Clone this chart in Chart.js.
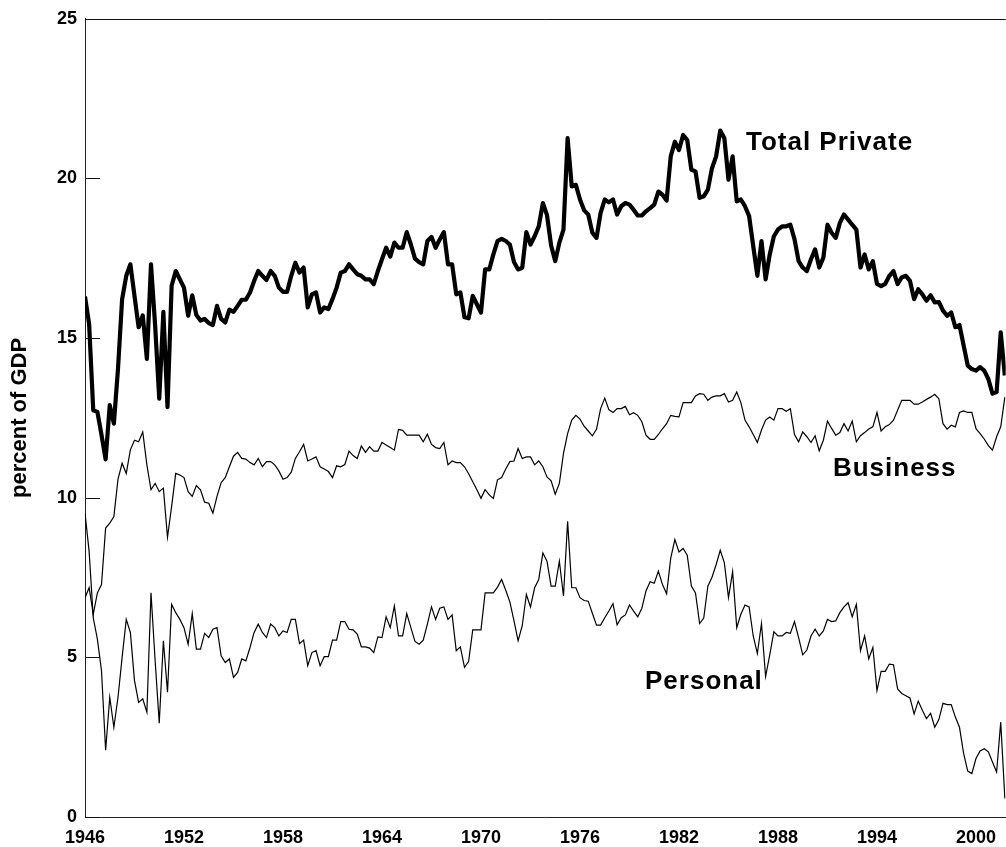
<!DOCTYPE html>
<html>
<head>
<meta charset="utf-8">
<script src="https://cdn.jsdelivr.net/npm/chart.js@4.4.1/dist/chart.umd.min.js"></script>
<style>
html,body{margin:0;padding:0;background:#fff;}
#wrap{width:1006px;height:847px;position:relative;}
</style>
</head>
<body>
<div id="wrap"><canvas id="c" width="1006" height="847"></canvas></div>
<script>
// ---- data (quarterly, starting 1946 Q1) ----
const startYear = 1946;
const quartersPerYear = 4;
const xTickYears = [1946, 1952, 1958, 1964, 1970, 1976, 1982, 1988, 1994, 2000];
const yTickValues = [0, 5, 10, 15, 20, 25];

const totalPrivate = [
 16.3, 15.44, 12.74, 12.69, 11.97, 11.2, 12.9, 12.32, 14.04, 16.22,
 16.95, 17.31, 16.32, 15.34, 15.71, 14.35, 17.31, 15.4, 13.1, 15.82,
 12.84, 16.64, 17.1, 16.84, 16.58, 15.7, 16.34, 15.72, 15.55, 15.6,
 15.47, 15.41, 16.01, 15.6, 15.49, 15.89, 15.82, 16.01, 16.2, 16.2,
 16.43, 16.79, 17.1, 16.95, 16.82, 17.1, 16.95, 16.58, 16.45, 16.45,
 16.95, 17.36, 17.05, 17.21, 15.96, 16.37, 16.43, 15.8, 15.96, 15.91,
 16.22, 16.58, 17.05, 17.1, 17.31, 17.15, 17.0, 16.95, 16.84, 16.84,
 16.69, 17.1, 17.47, 17.83, 17.55, 17.99, 17.83, 17.83, 18.32, 17.93,
 17.49, 17.38, 17.31, 18.04, 18.17, 17.83, 18.09, 18.32, 17.31, 17.31,
 16.37, 16.43, 15.65, 15.62, 16.32, 16.06, 15.8, 17.15, 17.15, 17.62,
 18.04, 18.11, 18.04, 17.93, 17.38, 17.15, 17.2, 18.32, 17.93, 18.19,
 18.5, 19.23, 18.85, 17.9, 17.41, 17.99, 18.4, 21.26, 19.75, 19.8,
 19.34, 19.0, 18.87, 18.3, 18.14, 18.92, 19.34, 19.25, 19.34, 18.87,
 19.13, 19.23, 19.18, 19.02, 18.84, 18.84, 18.97, 19.07, 19.18, 19.59,
 19.49, 19.31, 20.69, 21.15, 20.89, 21.36, 21.2, 20.27, 20.22, 19.39,
 19.44, 19.65, 20.32, 20.69, 21.5, 21.26, 19.96, 20.69, 19.28, 19.34,
 19.13, 18.82, 17.88, 16.95, 18.04, 16.84, 17.62, 18.19, 18.4, 18.5,
 18.5, 18.55, 18.1, 17.41, 17.21, 17.1, 17.47, 17.78, 17.21, 17.52,
 18.55, 18.3, 18.14, 18.61, 18.87, 18.71, 18.55, 18.4, 17.21, 17.62,
 17.15, 17.41, 16.7, 16.63, 16.7, 16.95, 17.1, 16.69, 16.9, 16.95,
 16.79, 16.22, 16.53, 16.37, 16.17, 16.34, 16.12, 16.13, 15.86, 15.7,
 15.8, 15.34, 15.41, 14.77, 14.14, 14.03, 13.98, 14.09, 13.98, 13.72,
 13.26, 13.31, 15.18, 13.83
];

const business = [
 6.87, 7.18, 6.35, 7.02, 7.28, 9.05, 9.2, 9.41, 10.58, 11.08,
 10.76, 11.5, 11.8, 11.75, 12.06, 11.03, 10.25, 10.45, 10.19, 10.3,
 8.76, 9.73, 10.76, 10.71, 10.63, 10.19, 10.04, 10.38, 10.25, 9.86,
 9.83, 9.52, 10.04, 10.47, 10.63, 10.97, 11.3, 11.42, 11.23, 11.21,
 11.1, 11.03, 11.23, 10.97, 11.13, 11.13, 11.03, 10.84, 10.58, 10.63,
 10.8, 11.23, 11.44, 11.67, 11.15, 11.21, 11.28, 10.97, 10.9, 10.82,
 10.63, 11.0, 10.97, 11.04, 11.46, 11.32, 11.23, 11.62, 11.42, 11.6,
 11.46, 11.46, 11.73, 11.65, 11.57, 11.49, 12.14, 12.11, 11.96, 11.96,
 11.96, 11.96, 11.75, 11.99, 11.67, 11.57, 11.54, 11.73, 11.03, 11.15,
 11.1, 11.1, 10.97, 10.75, 10.5, 10.25, 9.98, 10.25, 10.09, 9.98,
 10.56, 10.63, 10.9, 11.13, 11.15, 11.54, 11.23, 11.28, 11.28, 11.03,
 11.15, 10.97, 10.65, 10.53, 10.11, 10.45, 11.39, 12.01, 12.43, 12.58,
 12.46, 12.24, 12.09, 11.94, 12.14, 12.79, 13.12, 12.76, 12.67, 12.79,
 12.79, 12.86, 12.6, 12.66, 12.58, 12.38, 11.96, 11.83, 11.83, 11.98,
 12.16, 12.32, 12.58, 12.55, 12.53, 12.98, 12.98, 12.98, 13.19, 13.26,
 13.24, 13.05, 13.15, 13.19, 13.19, 13.26, 13.0, 13.05, 13.31, 12.98,
 12.43, 12.22, 11.98, 11.73, 12.12, 12.43, 12.53, 12.43, 12.79, 12.79,
 12.71, 12.79, 11.98, 11.75, 12.06, 11.91, 11.73, 11.94, 11.47, 11.8,
 12.4, 12.17, 11.96, 12.04, 12.32, 12.09, 12.4, 11.75, 11.94, 12.04,
 12.15, 12.22, 12.67, 12.09, 12.22, 12.29, 12.43, 12.74, 13.05, 13.05,
 13.05, 12.93, 12.93, 13.0, 13.08, 13.15, 13.24, 13.1, 12.32, 12.15,
 12.27, 12.22, 12.67, 12.72, 12.67, 12.67, 12.16, 12.01, 11.84, 11.63,
 11.49, 11.91, 12.22, 13.15
];

const personal = [
 9.52, 8.32, 6.24, 5.57, 4.58, 2.09, 3.75, 2.81, 3.75, 5.0,
 6.19, 5.78, 4.27, 3.59, 3.7, 3.28, 7.02, 4.9, 2.94, 5.52,
 3.91, 6.66, 6.4, 6.19, 5.93, 5.41, 6.37, 5.26, 5.26, 5.75,
 5.62, 5.88, 5.93, 5.05, 4.84, 4.95, 4.37, 4.53, 4.95, 4.89,
 5.31, 5.78, 6.04, 5.78, 5.62, 6.04, 5.93, 5.67, 5.83, 5.78,
 6.19, 6.19, 5.43, 5.54, 4.74, 5.15, 5.21, 4.74, 5.02, 5.02,
 5.54, 5.54, 6.12, 6.12, 5.88, 5.86, 5.73, 5.33, 5.33, 5.29,
 5.15, 5.64, 5.62, 6.27, 5.93, 6.61, 5.67, 5.67, 6.37, 5.93,
 5.5, 5.41, 5.54, 6.04, 6.58, 6.19, 6.54, 6.58, 6.19, 6.33,
 5.21, 5.33, 4.69, 4.87, 5.86, 5.86, 5.86, 7.02, 7.02, 7.02,
 7.2, 7.44, 7.1, 6.74, 6.14, 5.52, 5.99, 6.97, 6.58, 7.18,
 7.44, 8.27, 8.01, 7.23, 7.23, 8.01, 6.92, 9.26, 7.18, 7.18,
 6.87, 6.78, 6.76, 6.38, 6.01, 6.01, 6.24, 6.45, 6.68, 6.02,
 6.24, 6.33, 6.64, 6.45, 6.27, 6.54, 7.08, 7.37, 7.32, 7.7,
 7.28, 6.99, 8.11, 8.69, 8.3, 8.41, 8.2, 7.23, 7.02, 6.06,
 6.23, 7.23, 7.51, 7.9, 8.35, 7.96, 6.87, 7.68, 5.93, 6.35,
 6.64, 6.58, 5.67, 5.12, 6.06, 4.4, 5.08, 5.8, 5.67, 5.67,
 5.78, 5.75, 6.12, 5.62, 5.08, 5.23, 5.67, 5.88, 5.67, 5.83,
 6.19, 6.12, 6.14, 6.4, 6.58, 6.71, 6.27, 6.66, 5.21, 5.67,
 4.95, 5.31, 3.96, 4.56, 4.56, 4.79, 4.77, 4.01, 3.87, 3.8,
 3.73, 3.23, 3.63, 3.34, 3.08, 3.25, 2.81, 3.05, 3.56, 3.52,
 3.52, 3.13, 2.81, 1.99, 1.44, 1.36, 1.83, 2.07, 2.14, 2.04,
 1.72, 1.41, 2.97, 0.58
];

const seriesNames = ['Total Private', 'Business', 'Personal'];
const axisTitle = 'percent of GDP';

// ---- presentation ----
const toPoints = arr => arr.map((v, i) => ({ x: startYear + i / quartersPerYear, y: v }));

const labelSpots = [
  { text: seriesNames[0], year: 1986.06, value: 20.89 },
  { text: seriesNames[1], year: 1991.33, value: 10.69 },
  { text: seriesNames[2], year: 1979.94, value: 4.02 }
];

const fontFamily = '"Liberation Sans", Arial, sans-serif';

const framePlugin = {
  id: 'frame',
  afterDatasetsDraw(chart) {
    const { ctx, chartArea, scales } = chart;
    ctx.save();
    ctx.strokeStyle = '#111';
    ctx.lineWidth = 1;
    ctx.beginPath();
    yTickValues.forEach(v => {
      const y = Math.round(scales.y.getPixelForValue(v)) + 0.5;
      ctx.moveTo(chartArea.left, y);
      ctx.lineTo(chartArea.left + 15, y);
    });
    const t = Math.round(chartArea.top) + 0.5;
    ctx.moveTo(chartArea.left, t);
    ctx.lineTo(chartArea.right, t);
    ctx.stroke();

    ctx.fillStyle = '#000';
    ctx.font = 'bold 26px ' + fontFamily;
    ctx.textAlign = 'left';
    ctx.textBaseline = 'alphabetic';
    try { ctx.letterSpacing = '1px'; } catch (e) {}
    labelSpots.forEach(s => {
      ctx.fillText(s.text, scales.x.getPixelForValue(s.year), scales.y.getPixelForValue(s.value));
    });
    ctx.restore();
  }
};

new Chart(document.getElementById('c'), {
  type: 'line',
  data: {
    datasets: [
      { label: seriesNames[0], data: toPoints(totalPrivate), borderColor: '#000', borderWidth: 4.2, pointRadius: 0, tension: 0, borderJoinStyle: 'round' },
      { label: seriesNames[1], data: toPoints(business), borderColor: '#000', borderWidth: 1.2, pointRadius: 0, tension: 0 },
      { label: seriesNames[2], data: toPoints(personal), borderColor: '#000', borderWidth: 1.2, pointRadius: 0, tension: 0 }
    ]
  },
  options: {
    responsive: false,
    animation: false,
    devicePixelRatio: 1,
    layout: { padding: { top: 15, left: 0, right: 0, bottom: 0 } },
    plugins: { legend: { display: false }, tooltip: { enabled: false }, title: { display: false } },
    scales: {
      x: {
        type: 'linear',
        min: 1946,
        max: 2001.8,
        afterBuildTicks: s => { s.ticks = xTickYears.map(v => ({ value: v })); },
        afterFit: s => { s.height = 30; },
        grid: { display: false, drawTicks: false },
        border: { display: true, color: '#222', width: 1 },
        ticks: {
          autoSkip: false,
          maxRotation: 0,
          padding: 10,
          color: '#000',
          font: { family: fontFamily, size: 18, weight: 'bold' },
          callback: v => String(v)
        }
      },
      y: {
        min: 0,
        max: 25,
        afterBuildTicks: s => { s.ticks = yTickValues.map(v => ({ value: v })); },
        afterFit: s => { s.width = 85; },
        grid: { display: false, drawTicks: false },
        border: { display: true, color: '#222', width: 1 },
        ticks: {
          padding: 8,
          color: '#000',
          font: { family: fontFamily, size: 18, weight: 'bold' },
          callback: v => String(v)
        },
        title: {
          display: true,
          text: axisTitle,
          color: '#000',
          padding: { top: 7, bottom: 0 },
          font: { family: fontFamily, size: 22, weight: 'bold' }
        }
      }
    }
  },
  plugins: [framePlugin]
});
</script>
</body>
</html>
